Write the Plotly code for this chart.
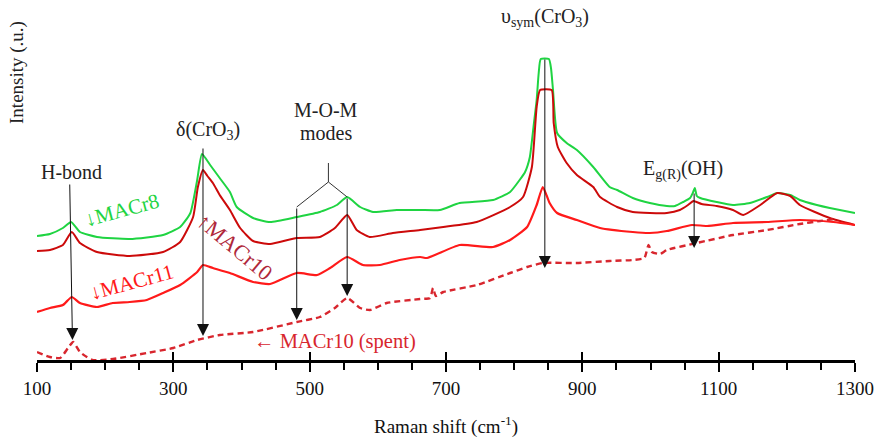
import plotly.graph_objects as go

# ---- data (Raman shift cm-1, intensity arbitrary units) ----
x_macr8 = [100,119,138,150,163,188,236,285,310,325,335,342,354,368,383,393,417,442,481,515,540,555,574,593,628,662,691,720,769,794,808,816,823,829,833,836,839,851,854,857,863,877,892,916,940,951,974,999,1024,1036,1048,1058,1062,1065,1068,1073,1097,1121,1146,1171,1186,1205,1219,1244,1263,1300]
y_macr8 = [132,134,140,146,136,131,129,133,141,155,188,214,203,190,176,161,150,146,151,156,163,171,161,156,158,158,158,165,168,176,188,196,211,245,268,295,309,309,300,278,235,225,218,201,181,178,170,165,162,162,166,170,175,180,172,170,166,163,165,171,175,173,168,163,160,155]

x_macr10 = [100,119,138,151,163,188,236,285,310,329,336,343.5,350,358,368,383,398,417,442,481,515,537,555,569,588,622,662,696,745,794,813,826,833,838,855,858,864,877,892,916,926,951,974,999,1024,1043,1055,1063,1075,1097,1121,1136,1161,1186,1205,1219,1263,1300]
y_macr10 = [117,118,123,136,125,116,112,116,126,151,181,198,192,185,173,158,140,127,124,130,131,140,153,138,131,135,138,141,146,161,171,201,261,278,278,245,221,205,193,181,171,161,156,155,155,158,163,167,164,162,158,153,163,175,172,163,150,143]

x_macr11 = [100,119,138,151,163,188,211,236,261,285,310,335,343.5,358,383,417,442,481,511,530,555,578,603,632,662,672,720,769,794,819,833,842,852,863,892,926,974,999,1024,1061,1083,1121,1171,1219,1268,1300]
y_macr11 = [56,60,63,71,65,61,65,66,68,75,83,96,103,100,95,86,84,95,93,100,111,103,103,108,111,110,123,121,128,141,163,181,165,155,148,140,136,135,137,143,142,145,146,148,146,143]

x_spent = [100,119,134,145.5,153,163,181,211.5,261,300,335,368,417,481,515,537,555,574,588.5,613,662,676.5,681,685,696,745.5,794,819,842,892,940,974,991,997,1002,1014,1024,1068,1121,1171,1219,1249,1271]
y_spent = [16,11,10,20,26,16,8,9,15,20,28,33,36,46,51,60,70,60,58,65,69,70,80,72,76,83,95,101,105,105,107,108,110,123,116,114,118,125,133,138,144,147,149]

x_ticks = [100, 300, 500, 700, 900, 1100, 1300]
x_tick_labels = ["100", "300", "500", "700", "900", "1100", "1300"]

# ---- styles ----
GREEN = "#1fd442"
DARKRED = "#cc0a0a"
RED = "#ff1a1a"
SPENT = "#d8262e"
SERIF = "Times New Roman, Liberation Serif, serif"

fig = go.Figure()
common = dict(mode="lines", showlegend=False, hoverinfo="skip")
fig.add_trace(go.Scatter(x=x_macr8, y=y_macr8,
                         line=dict(color=GREEN, width=2, shape="spline", smoothing=0.5), **common))
fig.add_trace(go.Scatter(x=x_macr10, y=y_macr10,
                         line=dict(color=DARKRED, width=2, shape="spline", smoothing=0.5), **common))
fig.add_trace(go.Scatter(x=x_macr11, y=y_macr11,
                         line=dict(color=RED, width=2.2, shape="spline", smoothing=0.5), **common))
fig.add_trace(go.Scatter(x=x_spent, y=y_spent,
                         line=dict(color=SPENT, width=2.4, dash="6px,4px", shape="spline", smoothing=0.5), **common))
# helper trace so the overlay axis (upper half of major ticks) is drawn
fig.add_trace(go.Scatter(x=[100, 1300], y=[None, None], xaxis="x2", **common))

annotations = []

def arrow(x_tail, y_tail, x_tip, y_tip):
    annotations.append(dict(x=x_tip, y=y_tip, ax=x_tail, ay=y_tail, xref="x", yref="y",
                            axref="x", ayref="y", text="", showarrow=True,
                            arrowhead=2, arrowsize=2.4, arrowwidth=1, arrowcolor="#111"))

def label(x, y, text, color="#222", size=20, angle=0):
    annotations.append(dict(x=x, y=y, xref="x", yref="y", text=text, showarrow=False,
                            textangle=angle, font=dict(family=SERIF, size=size, color=color)))

# peak assignment labels and arrows
label(151, 196, "H-bond")
arrow(148, 185, 152, 28)
label(351, 238, "δ(CrO<sub>3</sub>)")
arrow(343.5, 221, 343.5, 32)
label(524, 258, "M-O-M")
label(524, 235, "modes")
arrow(481, 161, 481, 48)
arrow(555, 171, 555, 72)
label(845, 351, "υ<sub>sym</sub>(CrO<sub>3</sub>)")
arrow(845, 310, 845, 100)
label(1048, 198, "E<sub>g(R)</sub>(OH)")
arrow(1064, 176, 1064, 120)

# sample labels
label(225, 158, "↓MACr8", color=GREEN, size=21, angle=-15)
label(390, 122, "↑MACr10", color="#b0283a", size=22, angle=40)
label(240, 86, "↓MACr11", color=RED, size=21, angle=-15)
label(537, 27, "← MACr10 (spent)", color=SPENT, size=20.5)

# axis titles
annotations.append(dict(x=0.5, y=-0.181, xref="paper", yref="paper", text="Raman shift (cm<sup>-1</sup>)",
                        showarrow=False, font=dict(family=SERIF, size=19, color="#111"),
                        xanchor="center", yanchor="middle"))
annotations.append(dict(x=-0.0245, y=0.80, xref="paper", yref="paper", text="Intensity (.u.)",
                        showarrow=False, textangle=-90, font=dict(family=SERIF, size=19, color="#222"),
                        xanchor="center", yanchor="middle"))

# bracket for M-O-M modes
shapes = [
    dict(type="line", xref="x", yref="y", x0=527.5, y0=205, x1=527.5, y1=186, line=dict(color="#333", width=1)),
    dict(type="line", xref="x", yref="y", x0=527.5, y0=186, x1=481, y1=161, line=dict(color="#333", width=1)),
    dict(type="line", xref="x", yref="y", x0=527.5, y0=186, x1=555, y1=171, line=dict(color="#333", width=1)),
]

fig.update_layout(
    width=877, height=440,
    margin=dict(l=37, r=22, t=0, b=80),
    paper_bgcolor="white", plot_bgcolor="white",
    showlegend=False,
    font=dict(family=SERIF),
    annotations=annotations,
    shapes=shapes,
    xaxis=dict(range=[100, 1300], showgrid=False, zeroline=False,
               showline=True, linecolor="black", linewidth=2.5,
               ticks="outside", ticklen=9, tickwidth=2, tickcolor="black",
               tickvals=x_ticks, ticktext=x_tick_labels,
               tickfont=dict(family=SERIF, size=19, color="#111"),
               minor=dict(ticks="outside", ticklen=7, tickwidth=1.5, tickcolor="black", dtick=50, showgrid=False)),
    xaxis2=dict(range=[100, 1300], overlaying="x", anchor="y", side="bottom",
                showgrid=False, zeroline=False, showline=False, showticklabels=False,
                ticks="inside", ticklen=8, tickwidth=2, tickcolor="black", tickvals=x_ticks),
    yaxis=dict(range=[8, 368], showgrid=False, zeroline=False, showline=False,
               showticklabels=False, ticks=""),
)

fig.write_html("out.html")
